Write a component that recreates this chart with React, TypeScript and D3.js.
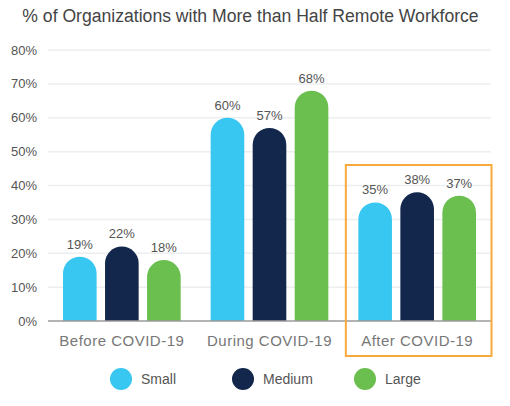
import * as d3 from 'd3';
import { useEffect, useRef } from 'react';

const periods = ['Before COVID-19', 'During COVID-19', 'After COVID-19'];
const sizes = ['Small', 'Medium', 'Large'];
const small = [19, 60, 35];
const medium = [22, 57, 38];
const large = [18, 68, 37];
const yTicks = [0, 10, 20, 30, 40, 50, 60, 70, 80];
const highlighted = 'After COVID-19';

const colors = ['#38C7F0', '#12274B', '#6BBF4E'];

const App = () => {
    const svgRef = useRef<SVGSVGElement>(null);

    useEffect(() => {
        const svg = d3.select(svgRef.current);
        svg.selectAll('*').remove();

        const width = 510;
        const height = 406;
        const margin = { top: 50, right: 19, bottom: 85, left: 48 };
        const font = '"Liberation Sans", Arial, sans-serif';

        const series = [small, medium, large];
        const rows = periods.map((p, i) => ({
            period: p,
            values: sizes.map((s, j) => ({ size: s, value: series[j][i] }))
        }));

        // Scales
        const x0 = d3
            .scaleBand()
            .domain(periods)
            .range([margin.left, width - margin.right]);

        const x1 = d3
            .scaleBand()
            .domain(sizes)
            .range([15, x0.bandwidth() - 15])
            .paddingInner(0.2);

        const y = d3
            .scaleLinear()
            .domain([0, 80])
            .range([height - margin.bottom, margin.top]);

        const color = d3.scaleOrdinal<string>().domain(sizes).range(colors);

        // Title
        svg.append('text')
            .attr('x', 250.5)
            .attr('y', 22)
            .attr('text-anchor', 'middle')
            .style('font-family', font)
            .style('font-size', '17.6px')
            .attr('fill', '#444')
            .text('% of Organizations with More than Half Remote Workforce');

        // Grid
        svg.append('g')
            .selectAll('line')
            .data(yTicks.filter((t) => t > 0))
            .enter()
            .append('line')
            .attr('x1', margin.left)
            .attr('x2', width - margin.right)
            .attr('y1', (d) => y(d))
            .attr('y2', (d) => y(d))
            .attr('stroke', '#ECEEF0')
            .attr('stroke-width', 1.5);

        svg.append('g')
            .selectAll('text')
            .data(yTicks)
            .enter()
            .append('text')
            .attr('x', 37)
            .attr('y', (d) => y(d))
            .attr('dy', '0.35em')
            .attr('text-anchor', 'end')
            .style('font-family', font)
            .style('font-size', '13px')
            .attr('fill', '#555')
            .text((d) => `${d}%`);

        // Bars
        const r = x1.bandwidth() / 2;
        const group = svg
            .append('g')
            .selectAll('g')
            .data(rows)
            .enter()
            .append('g')
            .attr('transform', (d) => `translate(${x0(d.period)},0)`);

        group
            .selectAll('path')
            .data((d) => d.values)
            .enter()
            .append('path')
            .attr('fill', (d) => color(d.size))
            .attr('d', (d) => {
                const bx = x1(d.size)!;
                const top = y(d.value);
                const base = y(0);
                const w = x1.bandwidth();
                return `M${bx},${base}V${top + r}A${r},${r} 0 0 1 ${bx + w},${top + r}V${base}Z`;
            });

        group
            .selectAll('text')
            .data((d) => d.values)
            .enter()
            .append('text')
            .attr('x', (d) => x1(d.size)! + r)
            .attr('y', (d) => y(d.value) - 8)
            .attr('text-anchor', 'middle')
            .style('font-family', font)
            .style('font-size', '13px')
            .attr('fill', '#555')
            .text((d) => `${d.value}%`);

        // Baseline
        svg.append('line')
            .attr('x1', margin.left)
            .attr('x2', width - margin.right)
            .attr('y1', y(0))
            .attr('y2', y(0))
            .attr('stroke', '#9A9A9A')
            .attr('stroke-width', 1.5);

        // Category labels
        svg.append('g')
            .selectAll('text')
            .data(periods)
            .enter()
            .append('text')
            .attr('x', (d) => x0(d)! + x0.bandwidth() / 2)
            .attr('y', y(0) + 25)
            .attr('text-anchor', 'middle')
            .style('font-family', font)
            .style('font-size', '15px')
            .style('letter-spacing', '0.5px')
            .attr('fill', '#777')
            .text((d) => d);

        // Highlight box
        svg.append('rect')
            .attr('x', x0(highlighted)! + 2.5)
            .attr('y', 165)
            .attr('width', x0.bandwidth() - 2)
            .attr('height', 191)
            .attr('fill', 'none')
            .attr('stroke', '#F8A93C')
            .attr('stroke-width', 2);

        // Legend
        const legend = svg
            .append('g')
            .selectAll('g')
            .data(sizes)
            .enter()
            .append('g')
            .attr('transform', (d, i) => `translate(${121 + i * 122},379)`);

        legend.append('circle')
            .attr('r', 11)
            .attr('fill', (d) => color(d));

        legend.append('text')
            .attr('x', 20)
            .attr('dy', '0.35em')
            .style('font-family', font)
            .style('font-size', '14px')
            .attr('fill', '#555')
            .text((d) => d);
    }, []);

    return (
        <svg
            ref={svgRef}
            width={510}
            height={406}
            style={{ position: 'absolute', left: 0, top: 0, background: '#fff' }}
        ></svg>
    );
};

export default App;
